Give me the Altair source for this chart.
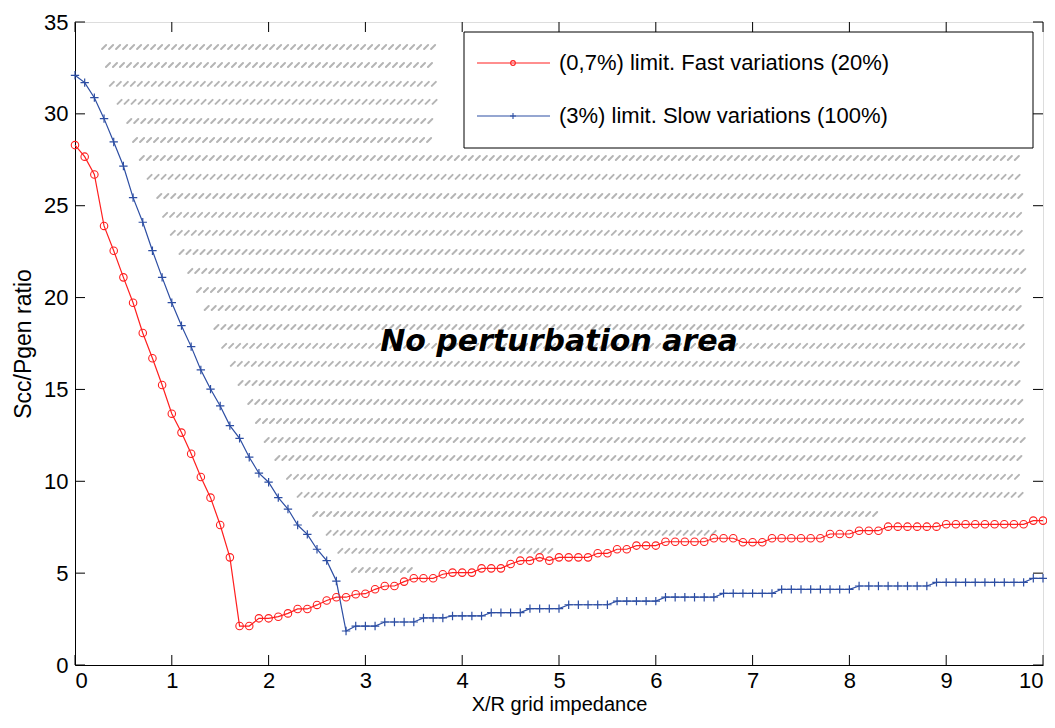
import altair as alt
import pandas as pd

# ---------------- data ----------------
x_vals = [round(i * 0.1, 1) for i in range(101)]

red_vals = [28.3, 27.67, 26.7, 23.9, 22.55, 21.1, 19.72, 18.07, 16.7, 15.24,
            13.68, 12.65, 11.5, 10.23, 9.11, 7.62, 5.86, 2.12, 2.12, 2.54,
            2.54, 2.63, 2.81, 3.05, 3.05, 3.27, 3.51, 3.69, 3.69, 3.85,
            3.88, 4.12, 4.30, 4.30, 4.54, 4.72, 4.72, 4.72, 4.94, 5.03,
            5.03, 5.03, 5.26, 5.26, 5.26, 5.50, 5.68, 5.68, 5.86, 5.68,
            5.86, 5.86, 5.86, 5.86, 6.08, 6.08, 6.30, 6.30, 6.50, 6.50,
            6.50, 6.71, 6.71, 6.71, 6.71, 6.71, 6.90, 6.90, 6.90, 6.68,
            6.68, 6.68, 6.90, 6.90, 6.90, 6.90, 6.90, 6.90, 7.13, 7.13,
            7.13, 7.31, 7.31, 7.31, 7.53, 7.53, 7.53, 7.53, 7.53, 7.53,
            7.66, 7.66, 7.66, 7.66, 7.66, 7.66, 7.66, 7.66, 7.66, 7.86,
            7.86]

blue_vals = [32.1, 31.7, 30.88, 29.74, 28.47, 27.16, 25.44, 24.1, 22.55, 21.1,
             19.72, 18.47, 17.33, 16.06, 15.02, 14.1, 13.03, 12.34, 11.31, 10.44,
             9.95, 9.11, 8.49, 7.62, 7.11, 6.30, 5.68, 4.57, 1.85, 2.12,
             2.12, 2.12, 2.34, 2.34, 2.34, 2.34, 2.56, 2.56, 2.56, 2.67,
             2.67, 2.67, 2.67, 2.85, 2.85, 2.85, 2.85, 3.07, 3.07, 3.07,
             3.07, 3.28, 3.28, 3.28, 3.28, 3.28, 3.48, 3.48, 3.48, 3.48,
             3.48, 3.69, 3.69, 3.69, 3.69, 3.69, 3.69, 3.90, 3.90, 3.90,
             3.90, 3.90, 3.90, 4.12, 4.12, 4.12, 4.12, 4.12, 4.12, 4.12,
             4.12, 4.30, 4.30, 4.30, 4.30, 4.30, 4.30, 4.30, 4.30, 4.50,
             4.50, 4.50, 4.50, 4.50, 4.50, 4.50, 4.50, 4.50, 4.50, 4.72,
             4.72]

series_names = ["(0,7%) limit. Fast variations (20%)",
                "(3%) limit. Slow variations (100%)"]
series_colors = ["#ff1f1f", "#2d4ea3"]

x_ticks = list(range(0, 11))
y_ticks = list(range(0, 36, 5))

# hatched "no perturbation" region, one row of dashes per level
hatch_y = [33.64, 32.66, 31.63, 30.65, 29.61, 28.58, 27.60, 26.57, 25.53, 24.50,
           23.52, 22.48, 21.45, 20.41, 19.43, 18.40, 17.37, 16.39, 15.35, 14.32,
           13.28, 12.25, 11.27, 10.24, 9.26, 8.22, 7.19, 6.21, 5.17]
hatch_x0 = [0.28, 0.32, 0.36, 0.44, 0.54, 0.60, 0.67, 0.75, 0.85, 0.91,
            0.99, 1.08, 1.17, 1.26, 1.34, 1.44, 1.52, 1.61, 1.69, 1.79,
            1.87, 1.96, 2.07, 2.19, 2.30, 2.46, 2.60, 2.72, 2.86]
hatch_x1 = [3.78, 3.78, 3.78, 3.78, 3.78, 3.78, 9.85, 9.85, 9.85, 9.85,
            9.85, 9.85, 9.85, 9.85, 9.85, 9.85, 9.85, 9.85, 9.85, 9.85,
            9.85, 9.85, 9.85, 9.85, 9.85, 8.32, 6.66, 5.01, 3.56]

annotation = "No perturbation area"
ann_x = [5.0]
ann_y = [17.6]

x_title = "X/R grid impedance"
y_title = "Scc/Pgen ratio"

# ---------------- layout ----------------
W, H = 968, 643
FONT = "Liberation Sans"
DASH_STEP = 7

xscale = alt.Scale(domain=[0, 10], nice=False, zero=False)
yscale = alt.Scale(domain=[0, 35], nice=False, zero=False)
xaxis = alt.Axis(values=x_ticks, title=x_title, labelFontSize=22, titleFontSize=20,
                 labelPadding=5, titlePadding=3, ticks=False, tickSize=0,
                 grid=False, domainColor="black", labelColor="black",
                 titleColor="black", titleFontWeight="normal")
yaxis = alt.Axis(values=y_ticks, title=y_title, labelFontSize=22, titleFontSize=23,
                 labelPadding=7, titlePadding=8, ticks=False, tickSize=0,
                 grid=False, domainColor="black", labelColor="black",
                 titleColor="black", titleFontWeight="normal")


def X(field):
    return alt.X(field, type="quantitative", scale=xscale, axis=xaxis, title=x_title)


def Y(field):
    return alt.Y(field, type="quantitative", scale=yscale, axis=yaxis, title=y_title)


# build hatch rows
px_per_unit = W / 10.0
paths = []
for a, b in zip(hatch_x0, hatch_x1):
    n = int(((b - a) * px_per_unit) // DASH_STEP)
    paths.append("M0,2" + "l4,-4m3,4" * n)
hatch_df = pd.DataFrame({"x0": hatch_x0, "y": hatch_y, "path": paths})

hatch = alt.Chart(hatch_df).mark_point(
    filled=False, size=4, strokeWidth=2.0, color="#b5b5b5", opacity=1, strokeCap="round"
).encode(
    x=X("x0"), y=Y("y"),
    shape=alt.Shape("path:N", scale=None, legend=None),
)

ann = alt.Chart(pd.DataFrame({"x": ann_x, "y": ann_y, "t": [annotation]})).mark_text(
    font="DejaVu Sans", fontSize=30, fontWeight="bold", fontStyle="italic",
    color="black", align="center", baseline="middle"
).encode(x=X("x"), y=Y("y"), text="t:N")

red_df = pd.DataFrame({"x": x_vals, "y": red_vals})
blue_df = pd.DataFrame({"x": x_vals, "y": blue_vals})

red_line = alt.Chart(red_df).mark_line(color=series_colors[0], strokeWidth=1.2).encode(x=X("x"), y=Y("y"))
blue_line = alt.Chart(blue_df).mark_line(color=series_colors[1], strokeWidth=1.2).encode(x=X("x"), y=Y("y"))

red_pts = alt.Chart(red_df).mark_point(
    shape="circle", size=56, filled=False, color=series_colors[0], strokeWidth=1.1, opacity=1
).encode(x=X("x"), y=Y("y"))
PLUS = "M-1,0L1,0M0,-1L0,1"
blue_pts = alt.Chart(blue_df).mark_point(
    shape=PLUS, size=70, filled=False, color=series_colors[1], strokeWidth=1.2, opacity=1
).encode(x=X("x"), y=Y("y"))

# inward ticks on all four sides
xt = pd.DataFrame({"t": x_ticks})
yt = pd.DataFrame({"t": y_ticks})
TL = 10
xt_bottom = alt.Chart(xt).mark_rule(color="black", strokeWidth=1).encode(
    x=X("t"), y=alt.value(H), y2=alt.value(H - TL))
xt_top = alt.Chart(xt).mark_rule(color="black", strokeWidth=1).encode(
    x=X("t"), y=alt.value(0), y2=alt.value(TL))
yt_left = alt.Chart(yt).mark_rule(color="black", strokeWidth=1).encode(
    y=Y("t"), x=alt.value(0), x2=alt.value(TL))
yt_right = alt.Chart(yt).mark_rule(color="black", strokeWidth=1).encode(
    y=Y("t"), x=alt.value(W - TL), x2=alt.value(W))

# legend box
one = pd.DataFrame({"a": [0]})
LX0, LX1, LY0, LY1 = 389, 958, 10, 126
leg_box = alt.Chart(one).mark_rect(fill="white", stroke="black", strokeWidth=1).encode(
    x=alt.value(LX0), x2=alt.value(LX1), y=alt.value(LY0), y2=alt.value(LY1))

legend_layers = [leg_box]
row_y = [41, 94]
shapes = ["circle", PLUS]
sizes = [22, 36]
for i in range(2):
    legend_layers.append(alt.Chart(one).mark_rule(color=series_colors[i], strokeWidth=1.2).encode(
        x=alt.value(402), x2=alt.value(475), y=alt.value(row_y[i])))
    legend_layers.append(alt.Chart(one).mark_point(
        shape=shapes[i], size=sizes[i], filled=False, color=series_colors[i], strokeWidth=1.1, opacity=1
    ).encode(x=alt.value(438), y=alt.value(row_y[i])))
    legend_layers.append(alt.Chart(pd.DataFrame({"t": [series_names[i]]})).mark_text(
        font=FONT, fontSize=22, align="left", baseline="middle", color="black"
    ).encode(x=alt.value(484), y=alt.value(row_y[i]), text="t:N"))

chart = alt.layer(
    hatch, ann, red_line, blue_line, red_pts, blue_pts,
    xt_bottom, xt_top, yt_left, yt_right, *legend_layers
).properties(
    width=W, height=H,
    autosize=alt.AutoSizeParams(type="none"),
    padding={"left": 67, "top": 14, "right": 4, "bottom": 55},
).configure_view(
    stroke="black", strokeWidth=1
).configure_axis(
    labelFont=FONT, titleFont=FONT
).configure(background="white")

chart.save("out.html", embed_options={"renderer": "svg", "actions": False})
